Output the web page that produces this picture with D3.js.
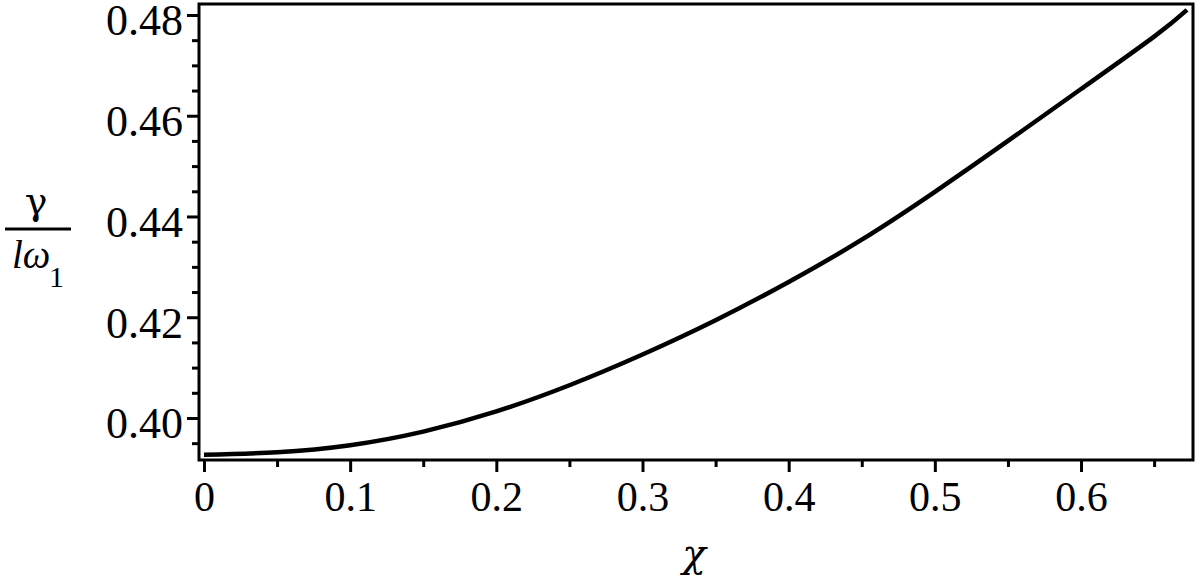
<!DOCTYPE html>
<html>
<head>
<meta charset="utf-8">
<script src="https://cdn.jsdelivr.net/npm/d3@7"></script>
<style>
	body { margin: 0; background: #fff; }
	svg text { font-family: "Liberation Serif", "Times New Roman", serif; fill: #000; }
	svg text.greek { font-family: "DejaVu Serif", "Liberation Serif", serif; }
</style>
</head>
<body>
<svg id="chart" width="1200" height="580"></svg>
<script>
// =============================
// gamma / (l omega_1) against chi
// =============================

// Curve
const chi = [0, 0.05, 0.1, 0.15, 0.2, 0.25, 0.3, 0.35, 0.4, 0.45, 0.5, 0.55, 0.6, 0.65, 0.6725];
const gamma = [0.3927, 0.3932, 0.3946, 0.3973, 0.4013, 0.4065, 0.4126, 0.4194, 0.4270, 0.4354, 0.4449, 0.4550, 0.4653, 0.4757, 0.4810];

// Tick labels
const xTicks = [0, 0.1, 0.2, 0.3, 0.4, 0.5, 0.6];
const xMinor = [0.05, 0.15, 0.25, 0.35, 0.45, 0.55, 0.65];
const yTicks = [0.40, 0.42, 0.44, 0.46, 0.48];
const yMinor = [0.395, 0.405, 0.41, 0.415, 0.425, 0.43, 0.435, 0.445, 0.45, 0.455, 0.465, 0.47, 0.475];

const svg = d3.select("#chart"),
	  box = {left: 199, right: 1193, top: 4, bottom: 460},
	  majorTick = 12,
	  minorTick = 7;

const x = d3.scaleLinear().domain([-0.0034, 0.6766]).range([box.left, box.right]);
const y = d3.scaleLinear().domain([0.39166, 0.48218]).range([box.bottom, box.top]);

const data = chi.map((c, i) => ({chi: c, gamma: gamma[i]}));

// Frame round the plot
svg.append("rect")
	.attr("x", box.left)
	.attr("y", box.top)
	.attr("width", box.right - box.left)
	.attr("height", box.bottom - box.top)
	.attr("fill", "none")
	.attr("stroke", "#000")
	.attr("stroke-width", 3);

// Bottom axis, major then minor ticks
const xAxis = svg.append("g")
	.attr("transform", `translate(0,${box.bottom})`)
	.call(d3.axisBottom(x).tickValues(xTicks).tickSize(majorTick)
		.tickFormat(d => d === 0 ? "0" : d3.format(".1f")(d)));
svg.append("g")
	.attr("transform", `translate(0,${box.bottom})`)
	.call(d3.axisBottom(x).tickValues(xMinor).tickSize(minorTick).tickFormat(""));

// Left axis
const yAxis = svg.append("g")
	.attr("transform", `translate(${box.left},0)`)
	.call(d3.axisLeft(y).tickValues(yTicks).tickSize(majorTick).tickPadding(4)
		.tickFormat(d3.format(".2f")));
svg.append("g")
	.attr("transform", `translate(${box.left},0)`)
	.call(d3.axisLeft(y).tickValues(yMinor).tickSize(minorTick).tickFormat(""));

svg.selectAll(".domain").remove();
svg.selectAll(".tick line").attr("stroke", "#000").attr("stroke-width", 3);

xAxis.selectAll("text")
	.attr("dy", null)
	.attr("y", 51)
	.style("font-size", "42px");

yAxis.selectAll("text")
	.attr("dy", null)
	.attr("y", 20)
	.style("font-size", "44px");

// The curve
svg.append("path")
	.datum(data)
	.attr("fill", "none")
	.attr("stroke", "#000")
	.attr("stroke-width", 4.5)
	.attr("d", d3.line()
		.x(d => x(d.chi))
		.y(d => y(d.gamma))
		.curve(d3.curveNatural));

// Axis titles
svg.append("text")
	.attr("class", "greek")
	.text("χ")
	.attr("x", 694)
	.attr("y", 567)
	.style("text-anchor", "middle")
	.style("font-style", "italic")
	.style("font-size", "39px");

const ylab = svg.append("g");
ylab.append("text")
	.attr("class", "greek")
	.text("γ")
	.attr("x", 36)
	.attr("y", 214)
	.style("text-anchor", "middle")
	.style("font-size", "38px");
ylab.append("line")
	.attr("x1", 5).attr("x2", 71)
	.attr("y1", 229).attr("y2", 229)
	.attr("stroke", "#000")
	.attr("stroke-width", 3);
const denom = ylab.append("text")
	.attr("x", 12)
	.attr("y", 268)
	.style("font-size", "39px");
denom.append("tspan").text("lω").style("font-style", "italic");
denom.append("tspan").text("1").attr("x", 49).attr("y", 287).style("font-size", "30px");
</script>
</body>
</html>
